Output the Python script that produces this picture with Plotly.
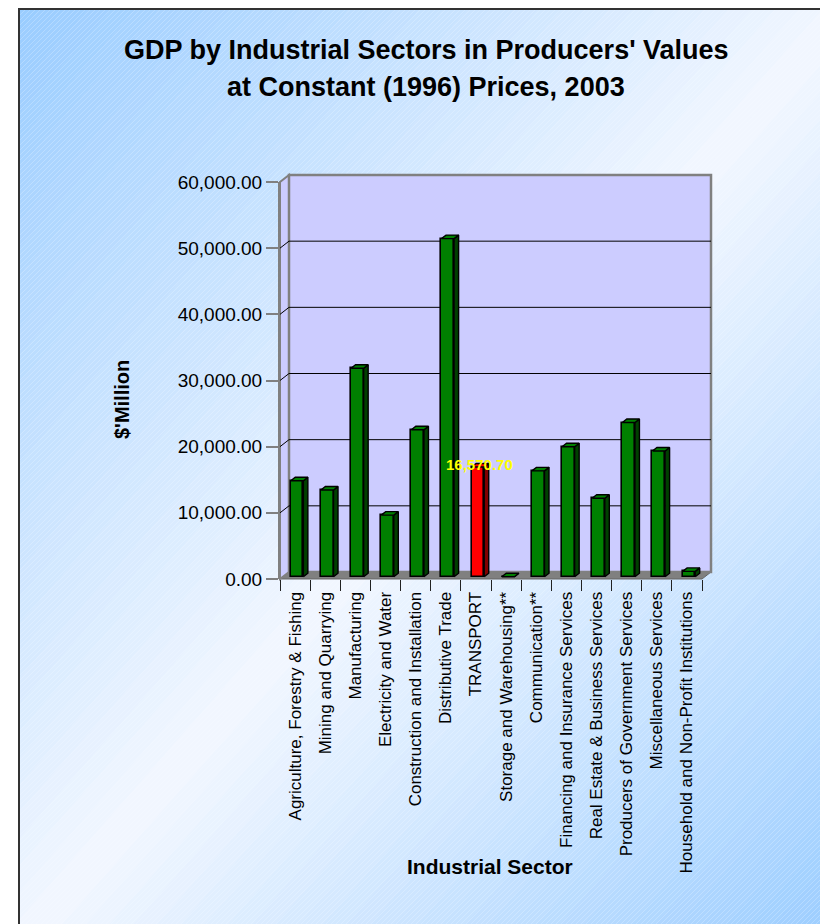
import plotly.graph_objects as go

# ---------------- data ----------------
categories = [
    "Agriculture, Forestry & Fishing",
    "Mining and Quarrying",
    "Manufacturing",
    "Electricity and Water",
    "Construction and Installation",
    "Distributive Trade",
    "TRANSPORT",
    "Storage and Warehousing**",
    "Communication**",
    "Financing and Insurance Services",
    "Real Estate & Business Services",
    "Producers of Government Services",
    "Miscellaneous Services",
    "Household and Non-Profit Institutions",
]
values = [14500, 13100, 31500, 9300, 22200, 51100, 16570.70, 0,
          16000, 19650, 11850, 23300, 19000, 800]
highlight_index = 6
y_ticks = [0, 10000, 20000, 30000, 40000, 50000, 60000]

# ---------------- geometry ----------------
W, H = 820, 924
PL, PR, PT, PB = 280, 702, 182, 579      # front plot frame (px)
DX, DY = 9, 7                            # depth of the 3-D box (px)
YMAX = y_ticks[-1]
N = len(categories)
kx = (PR - PL) / N                       # px per category
ky = (PB - PT) / YMAX                    # px per unit

def fx(p):  # px -> paper x
    return p / W

def fy(p):  # px -> paper y
    return 1 - p / H

# bar geometry in data units
BAR_W = 12.6 / kx
BAR_SHIFT = 2.0 / kx
BAR_BASE = 2.3 / ky
BDX = 4.5 / kx
BDY = 3.5 / ky

GREEN, GREEN_SIDE = "#008000", "#004000"
RED, RED_SIDE = "#FF0000", "#800000"

xs = [i + 0.5 + BAR_SHIFT for i in range(N)]
front_colors = [RED if i == highlight_index else GREEN for i in range(N)]

fig = go.Figure()
fig.add_trace(go.Bar(
    x=xs, y=values, base=[BAR_BASE] * N, width=BAR_W,
    marker=dict(color=front_colors, line=dict(color="black", width=1.6)),
    hoverinfo="skip", showlegend=False,
))

def faces(idx_list):
    sx, sy, tx, ty = [], [], [], []
    for i in idx_list:
        x0 = xs[i] - BAR_W / 2
        x1 = xs[i] + BAR_W / 2
        b = BAR_BASE
        t = BAR_BASE + values[i]
        sx += [x1, x1 + BDX, x1 + BDX, x1, x1, None]
        sy += [b, b + BDY, t + BDY, t, b, None]
        tx += [x0, x1, x1 + BDX, x0 + BDX, x0, None]
        ty += [t, t, t + BDY, t + BDY, t, None]
    return sx, sy, tx, ty

for idx, side_c, top_c in [
    ([i for i in range(N) if i != highlight_index], GREEN_SIDE, GREEN),
    ([highlight_index], RED_SIDE, RED),
]:
    sx, sy, tx, ty = faces(idx)
    fig.add_trace(go.Scatter(x=sx, y=sy, mode="lines", fill="toself",
                             fillcolor=side_c, line=dict(color="black", width=1.4),
                             hoverinfo="skip", showlegend=False))
    fig.add_trace(go.Scatter(x=tx, y=ty, mode="lines", fill="toself",
                             fillcolor=top_c, line=dict(color="black", width=1.4),
                             hoverinfo="skip", showlegend=False))

# ---------------- background: diagonal gradient bands + hatch ----------------
shapes = []
BX0, BY0, BW, BH = 18, 8, 830, 940       # chart-area box (extends past the window)
BLUE = (0x99, 0xCC, 0xFF)
LIGHT = (0xF2, 0xF7, 0xFF)

def path(points):
    return "M " + " L ".join(f"{fx(a):.5f},{fy(b):.5f}" for a, b in points) + " Z"

def box_pt(u, v):
    return (BX0 + BW * u, BY0 + BH * v)

NB = 70
for k in range(NB):
    c1 = 2.0 * k / NB
    c2 = 2.0 * (k + 1) / NB
    tmid = (k + 0.5) / NB
    f = abs(tmid - 0.5) * 2
    col = tuple(round(LIGHT[j] + (BLUE[j] - LIGHT[j]) * f) for j in range(3))
    hexc = "#%02X%02X%02X" % col
    pts = [box_pt(-1, c1 + 1), box_pt(2, c1 - 2), box_pt(2, c2 - 2), box_pt(-1, c2 + 1)]
    shapes.append(dict(type="path", xref="paper", yref="paper", layer="below",
                       path=path(pts), fillcolor=hexc, line=dict(color=hexc, width=1)))

# hatch "/" lines
hatch = []
step = 5
for s in range(0, W + H + step, step):
    # line x + y = s
    hatch.append(f"M {fx(s - H):.5f},{fy(H):.5f} L {fx(s):.5f},{fy(0):.5f}")
shapes.append(dict(type="path", xref="paper", yref="paper", layer="below",
                   path=" ".join(hatch), line=dict(color="rgba(255,255,255,0.3)", width=0.8)))

# white margin outside the chart border, then the border
shapes.append(dict(type="rect", xref="paper", yref="paper", layer="below",
                   x0=0, x1=fx(BX0), y0=0, y1=1, fillcolor="white", line=dict(width=0)))
shapes.append(dict(type="rect", xref="paper", yref="paper", layer="below",
                   x0=0, x1=1, y0=fy(BY0), y1=1, fillcolor="white", line=dict(width=0)))
shapes.append(dict(type="path", xref="paper", yref="paper", layer="below",
                   path=f"M {fx(BX0 + 1)},{fy(H + 5)} L {fx(BX0 + 1)},{fy(BY0 + 1)} L {fx(W + 5)},{fy(BY0 + 1)}",
                   line=dict(color="#333333", width=2)))

WALL = "#CCCCFF"
EDGE = "#808080"

# floor
shapes.append(dict(type="path", xref="paper", yref="paper", layer="below",
                   path=path([(PL, PB), (PR, PB), (PR + DX, PB - DY), (PL + DX, PB - DY)]),
                   fillcolor=EDGE, line=dict(color="#666666", width=1)))
# left wall
shapes.append(dict(type="path", xref="paper", yref="paper", layer="below",
                   path=path([(PL, PB), (PL + DX, PB - DY), (PL + DX, PT - DY), (PL, PT)]),
                   fillcolor=WALL, line=dict(color=EDGE, width=2)))
# back wall
shapes.append(dict(type="rect", xref="paper", yref="paper", layer="below",
                   x0=fx(PL + DX), x1=fx(PR + DX), y0=fy(PB - DY), y1=fy(PT - DY),
                   fillcolor=WALL, line=dict(color=EDGE, width=2.5)))
# gridlines
for v in y_ticks[1:-1]:
    yp = PB - v * ky
    shapes.append(dict(type="line", xref="paper", yref="paper", layer="below",
                       x0=fx(PL + DX), x1=fx(PR + DX), y0=fy(yp - DY), y1=fy(yp - DY),
                       line=dict(color="black", width=1)))
    shapes.append(dict(type="line", xref="paper", yref="paper", layer="below",
                       x0=fx(PL), x1=fx(PL + DX), y0=fy(yp), y1=fy(yp - DY),
                       line=dict(color="black", width=1)))

FONT = "Liberation Sans, Arial, sans-serif"
annotations = [
    dict(text="<b>GDP by Industrial Sectors in Producers' Values</b>", x=fx(426), y=fy(50),
         xref="paper", yref="paper", showarrow=False, font=dict(size=27, color="black", family=FONT),
         xanchor="center", yanchor="middle"),
    dict(text="<b>at Constant (1996) Prices, 2003</b>", x=fx(426), y=fy(87),
         xref="paper", yref="paper", showarrow=False, font=dict(size=27, color="black", family=FONT),
         xanchor="center", yanchor="middle"),
    dict(text="<b>$'Million</b>", x=fx(122), y=fy(400), xref="paper", yref="paper",
         showarrow=False, textangle=-90, font=dict(size=20, color="black", family=FONT),
         xanchor="center", yanchor="middle"),
    dict(text="<b>Industrial Sector</b>", x=fx(490), y=fy(866), xref="paper", yref="paper",
         showarrow=False, font=dict(size=21, color="black", family=FONT),
         xanchor="center", yanchor="middle"),
    dict(text=f"<b>{values[highlight_index]:,.2f}</b>", x=highlight_index + 0.5, y=values[highlight_index] + BAR_BASE,
         xref="x", yref="y", showarrow=False, xshift=4, yshift=3,
         font=dict(size=15, color="#FFFF00", family=FONT), xanchor="center", yanchor="middle"),
]

fig.update_layout(
    width=W, height=H, autosize=False,
    margin=dict(l=0, r=0, t=0, b=0),
    paper_bgcolor="white", plot_bgcolor="rgba(0,0,0,0)",
    shapes=shapes, annotations=annotations,
    bargap=0, showlegend=False,
    xaxis=dict(domain=[fx(PL), fx(PR)], range=[0, N], automargin=False,
               tickmode="array", tickvals=[i + 0.5 for i in range(N)], ticktext=categories,
               tickangle=-90, ticks="outside", ticklen=5, tickcolor="rgba(0,0,0,0)",
               tickfont=dict(size=17, color="black", family=FONT),
               showgrid=False, zeroline=False, showline=False, fixedrange=True,
               minor=dict(tickmode="array", tickvals=list(range(N + 1)), ticks="outside",
                          ticklen=11, tickcolor="#222222", tickwidth=1.2, showgrid=False)),
    yaxis=dict(domain=[fy(PB), fy(PT)], range=[0, YMAX], automargin=False,
               tickmode="array", tickvals=y_ticks, tickformat=",.2f",
               ticks="outside", ticklen=12, tickcolor=EDGE, tickwidth=2,
               tickfont=dict(size=19, color="black", family=FONT),
               showgrid=False, zeroline=False, showline=True, linecolor=EDGE, linewidth=2,
               fixedrange=True),
)

fig.write_html(
    "out.html", config={"displayModeBar": False},
    post_script=("document.documentElement.style.overflow='hidden';"
                 "document.body.style.margin='0';document.body.style.overflow='hidden';"),
)
